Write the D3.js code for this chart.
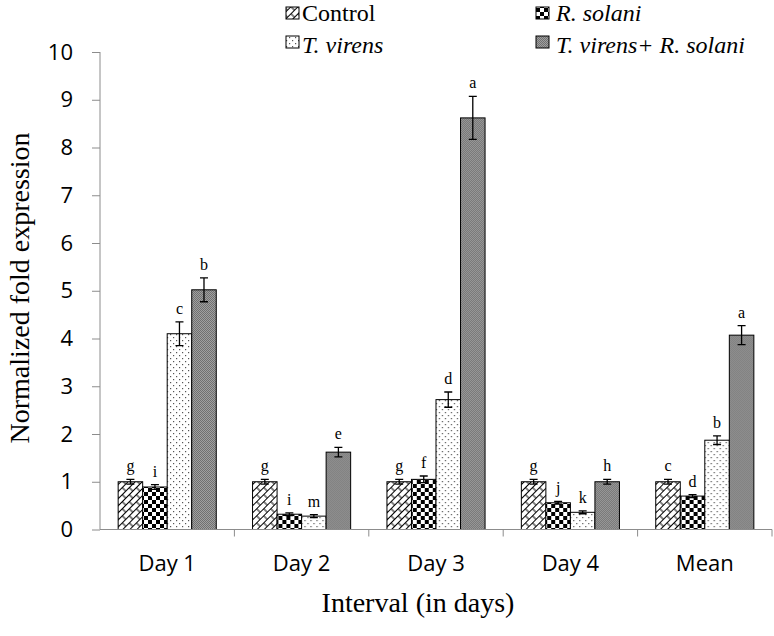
<!DOCTYPE html>
<html><head><meta charset="utf-8">
<script src="https://cdn.jsdelivr.net/npm/d3@7"></script>
<style>body{margin:0;background:#fff} svg text{-webkit-font-smoothing:antialiased}</style>
</head><body>
<svg id="c" width="774" height="636"></svg>
<script>
const categories = ["Day 1","Day 2","Day 3","Day 4","Mean"];
const seriesNames = ["Control","R. solani","T. virens","T. virens+ R. solani"];
const control  = [1.00,1.00,1.00,1.00,1.00];
const rsolani  = [0.89,0.32,1.05,0.56,0.70];
const tvirens  = [4.10,0.28,2.72,0.36,1.87];
const combined = [5.02,1.62,8.62,1.00,4.07];
const errControl  = [0.05,0.05,0.05,0.05,0.05];
const errRsolani  = [0.05,0.03,0.07,0.03,0.03];
const errTvirens  = [0.25,0.03,0.16,0.03,0.09];
const errCombined = [0.25,0.10,0.45,0.05,0.20];
const lblControl  = ["g","g","g","g","c"];
const lblRsolani  = ["i","i","f","j","d"];
const lblTvirens  = ["c","m","d","k","b"];
const lblCombined = ["b","e","a","h","a"];
const yTicks = [0,1,2,3,4,5,6,7,8,9,10];

const values = [control, rsolani, tvirens, combined];
const errs = [errControl, errRsolani, errTvirens, errCombined];
const lbls = [lblControl, lblRsolani, lblTvirens, lblCombined];

const serif = "'Liberation Serif', 'Times New Roman', serif";
const sans = "'Open Sans', sans-serif";

const svg = d3.select("#c");
const defs = svg.append("defs");
const p0 = defs.append("pattern").attr("id","pat0").attr("patternUnits","userSpaceOnUse")
  .attr("width",10).attr("height",10).attr("patternTransform","rotate(-45)");
p0.append("rect").attr("width",10).attr("height",10).attr("fill","#fff");
p0.append("path").attr("d","M0,0.5H10M0,5.5H10M1,0.5V5.5M6,5.5V10.5").attr("stroke","#000").attr("stroke-width",1).attr("fill","none");
const p1 = defs.append("pattern").attr("id","pat1").attr("patternUnits","userSpaceOnUse")
  .attr("width",8).attr("height",8);
p1.append("rect").attr("width",8).attr("height",8).attr("fill","#fff");
p1.append("rect").attr("width",4).attr("height",4).attr("fill","#000");
p1.append("rect").attr("x",4).attr("y",4).attr("width",4).attr("height",4).attr("fill","#000");
const p2 = defs.append("pattern").attr("id","pat2").attr("patternUnits","userSpaceOnUse")
  .attr("width",6).attr("height",6);
p2.append("rect").attr("width",6).attr("height",6).attr("fill","#fff");
p2.append("rect").attr("x",1).attr("y",1).attr("width",1.2).attr("height",1.2).attr("fill","#555");
p2.append("rect").attr("x",4).attr("y",4).attr("width",1.2).attr("height",1.2).attr("fill","#555");
const p3 = defs.append("pattern").attr("id","pat3").attr("patternUnits","userSpaceOnUse")
  .attr("width",2).attr("height",2);
p3.append("rect").attr("width",2).attr("height",2).attr("fill","#a0a0a0");
p3.append("rect").attr("width",1).attr("height",1).attr("fill","#707070");
p3.append("rect").attr("x",1).attr("y",1).attr("width",1).attr("height",1).attr("fill","#707070");
const fills = ["url(#pat0)","url(#pat1)","url(#pat2)","url(#pat3)"];

const x0 = d3.scaleBand().domain(categories).range([100,772]).padding(0);
const x1 = d3.scaleBand().domain(d3.range(4)).range([0,x0.bandwidth()]).paddingInner(0).paddingOuter(0.74);
const y = d3.scaleLinear().domain([0,10]).range([529.5,52]);

const yAxis = svg.append("g").attr("transform","translate(100,0)")
  .call(d3.axisLeft(y).tickValues(yTicks).tickSize(8).tickPadding(19).tickFormat(d3.format("d")));
yAxis.select(".domain").attr("stroke","#8c8c8c").attr("d","M0,"+y(10)+"V"+y(0));
yAxis.selectAll(".tick line").attr("stroke","#8c8c8c");
yAxis.selectAll("text").attr("font-family",sans).attr("font-size",22).attr("fill","#000");

const groups = svg.append("g").selectAll("g").data(categories).join("g")
  .attr("transform",d=>`translate(${x0(d)},0)`);
values.forEach((arr,s)=>{
  groups.append("rect")
    .attr("x",x1(s)).attr("width",x1.bandwidth())
    .attr("y",(d,i)=>y(arr[i])).attr("height",(d,i)=>y(0)-y(arr[i]))
    .attr("fill",fills[s]).attr("stroke","#000").attr("stroke-width",1);
  groups.append("path")
    .attr("d",(d,i)=>{
      const cx = x1(s)+x1.bandwidth()/2;
      const t = y(arr[i]+errs[s][i]), b = y(arr[i]-errs[s][i]);
      return `M${cx},${t}V${b}M${cx-4},${t}H${cx+4}M${cx-4},${b}H${cx+4}`;
    })
    .attr("stroke","#000").attr("stroke-width",1.3).attr("fill","none");
  groups.append("text")
    .attr("x",x1(s)+x1.bandwidth()/2)
    .attr("y",(d,i)=>y(arr[i]+errs[s][i])-8)
    .attr("text-anchor","middle").attr("fill","#000")
    .attr("font-family",serif).attr("font-size",16)
    .text((d,i)=>lbls[s][i]);
});

const xg = svg.append("g");
xg.append("path").attr("d",`M100,${y(0)}H772`).attr("stroke","#8c8c8c").attr("stroke-width",1.2);
xg.selectAll("line.t").data(categories).join("line")
  .attr("x1",d=>x0(d)+x0.step()).attr("x2",d=>x0(d)+x0.step())
  .attr("y1",y(0)).attr("y2",y(0)+7).attr("stroke","#8c8c8c");
xg.selectAll("text").data(categories).join("text")
  .attr("x",d=>x0(d)+x0.bandwidth()/2).attr("y",571)
  .attr("text-anchor","middle").attr("fill","#000").attr("font-family",sans).attr("font-size",22)
  .text(d=>d);

svg.append("text").attr("x",418).attr("y",612).attr("text-anchor","middle").attr("fill","#000")
  .attr("font-family",serif).attr("font-size",28).text("Interval (in days)");
svg.append("text").attr("transform","translate(29,288) rotate(-90)").attr("text-anchor","middle").attr("fill","#000")
  .attr("font-family",serif).attr("font-size",28).text("Normalized fold expression");

const legIcon = [[286,7],[536,7],[286,36],[536,36]];
const legText = [[302,21],[556,21],[302,53],[556,53]];
seriesNames.forEach((n,i)=>{
  svg.append("rect").attr("x",legIcon[i][0]).attr("y",legIcon[i][1]).attr("width",13).attr("height",12)
    .attr("fill",fills[i]).attr("stroke","#000").attr("stroke-width",1);
  svg.append("text").attr("x",legText[i][0]).attr("y",legText[i][1]).attr("fill","#000")
    .attr("font-family",serif).attr("font-size",24)
    .attr("font-style", i===0?"normal":"italic").text(n);
});
</script>
</body></html>
